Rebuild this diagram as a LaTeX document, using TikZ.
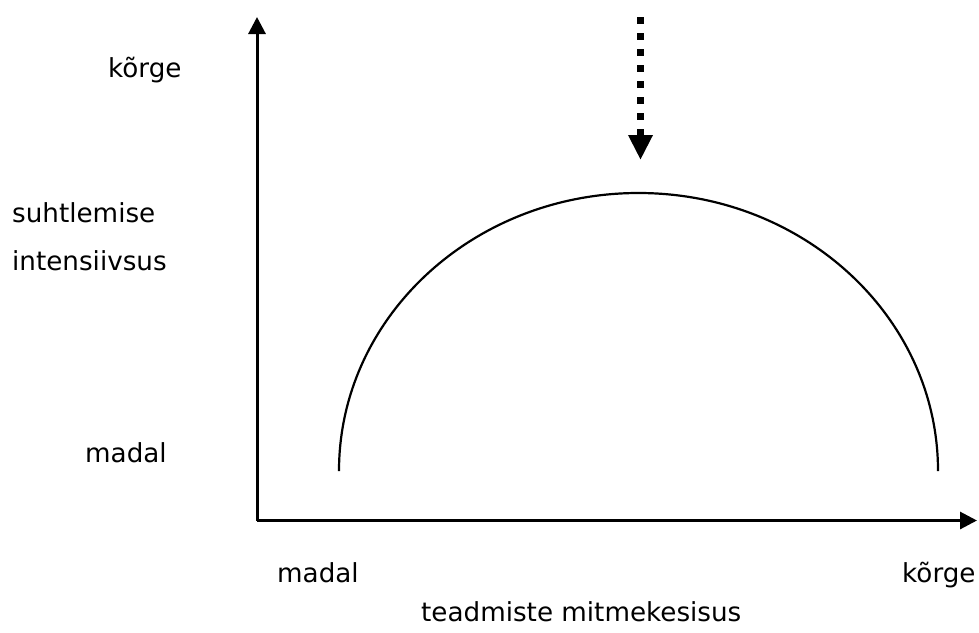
\documentclass[tikz,border=0pt]{standalone}
\usepackage{fontspec}
\setmainfont{DejaVu Sans}
\usetikzlibrary{arrows.meta}
\begin{document}
\begin{tikzpicture}[x=1pt,y=-1pt,
  lbl/.style={anchor=base west,inner sep=0pt,font=\fontsize{26.2}{30}\selectfont},
  axis/.style={line width=3pt,-{Triangle[width=17pt,length=17pt]}},
  curve/.style={line width=2.2pt},
  hint/.style={line width=7pt,dash pattern=on 7pt off 9pt,-{Triangle[width=23pt,length=25pt]}}]
\useasboundingbox (0,0) rectangle (979,632);
\coordinate (o) at (257,520.5);
\coordinate (ytip) at (257,17);
\coordinate (xtip) at (977,520.5);
\draw[axis] (o) -- (ytip);
\draw[axis] (o) -- (xtip);
\coordinate (arcstart) at (339,471);
\draw[curve] (arcstart) arc[start angle=180,end angle=360,x radius=299.5,y radius=278];
\coordinate (dtop) at (640.5,17);
\coordinate (dtip) at (640.5,160);
\draw[hint] (dtop) -- (dtip);
\node[lbl] (yhigh) at (108,77) {kõrge};
\node[lbl] (ylab1) at (12,222) {suhtlemise};
\node[lbl] (ylab2) at (12,270) {intensiivsus};
\node[lbl] (ylow) at (85,462) {madal};
\node[lbl] (xlow) at (277,582) {madal};
\node[lbl] (xhigh) at (902,582) {kõrge};
\node[lbl] (xlab) at (421,621) {teadmiste mitmekesisus};
\end{tikzpicture}
\end{document}
